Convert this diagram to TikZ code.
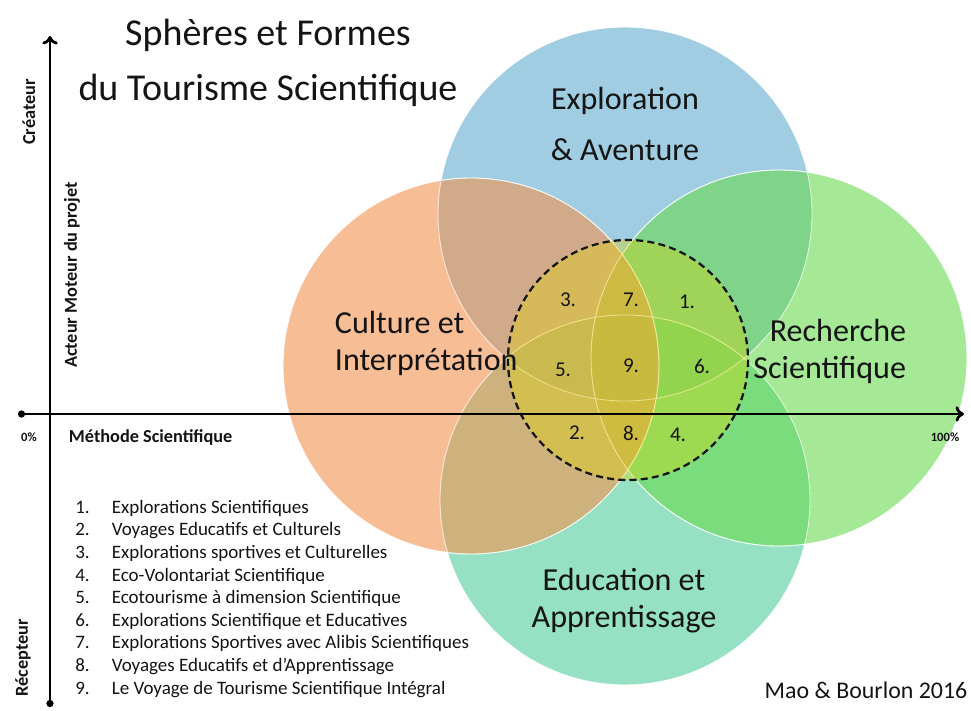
\documentclass[tikz,border=0pt]{standalone}
\usepackage{fontspec}
\setmainfont{Carlito}
\usepackage{tikz}
\usepackage{xcolor}
\usetikzlibrary{arrows.meta}

\definecolor{sphere-blue}{RGB}{97,172,205}
\definecolor{sphere-orange}{RGB}{243,147,80}
\definecolor{sphere-green}{RGB}{105,217,80}
\definecolor{sphere-teal}{RGB}{80,205,155}
\definecolor{core-yellow}{RGB}{224,213,0}
\definecolor{ink}{RGB}{20,20,20}

\tikzset{
    sphere/.style = {fill opacity=0.6, draw=white, draw opacity=0.7, line width=0.6pt},
    core-circle/.style = {fill=core-yellow, fill opacity=0.35, draw=ink, dash pattern=on 5pt off 3pt, line width=1.6pt},
    axis-line/.style = {draw=black, line width=2pt},
    main-title/.style = {text=ink, align=center, font=\fontsize{27}{39}\selectfont},
    sphere-label/.style = {text=ink, font=\fontsize{22.8}{26.3}\selectfont},
    zone-number/.style = {text=ink, font=\fontsize{15}{18}\selectfont},
    axis-label/.style = {text=ink, font=\bfseries\fontsize{13}{15}\selectfont},
    axis-percent/.style = {text=ink, font=\bfseries\fontsize{9}{11}\selectfont},
}

\begin{document}
\begin{tikzpicture}[x=0.025cm, y=-0.025cm]
\fill[white] (0,0) rectangle (971,710);
\useasboundingbox (0,0) rectangle (971,710);

% the four spheres
\fill[sphere, fill=sphere-blue] (625,214) circle[radius=187];
\fill[sphere, fill=sphere-teal] (625,500) circle[radius=185];
\fill[sphere, fill=sphere-green] (779,358) circle[radius=188];
\fill[sphere, fill=sphere-orange] (471,366) circle[radius=188];
\draw[sphere, fill opacity=0] (625,214) circle[radius=187] (625,500) circle[radius=185]
    (779,358) circle[radius=188] (471,366) circle[radius=188];

% integral tourism zone
\filldraw[core-circle] (628,360) circle[radius=120];

% axes
\coordinate (x-start) at (18,414);
\coordinate (x-end) at (964,414);
\coordinate (y-start) at (50,707);
\coordinate (y-end) at (50,36);
\draw[axis-line, {Circle[length=5pt]}-{To[length=6pt,width=11pt]}] (x-start) -- (x-end);
\draw[axis-line, {Circle[length=5pt]}-{To[length=6pt,width=11pt]}] (y-start) -- (y-end);

\node[main-title] (title) at (268,63) {Sphères et Formes\\du Tourisme Scientifique};

\node[sphere-label, align=center, font=\fontsize{22.8}{35.6}\selectfont] (exploration) at (625,124) {Exploration\\\& Aventure};
\node[sphere-label, align=left, anchor=west] (culture) at (330,343) {Culture et\\Interprétation};
\node[sphere-label, align=right, anchor=east] (recherche) at (911,351) {Recherche\\Scientifique};
\node[sphere-label, align=center] (education) at (624,601) {Education et\\Apprentissage};

\node[zone-number] (zone-3) at (568,300) {3.};
\node[zone-number] (zone-7) at (631,300) {7.};
\node[zone-number] (zone-1) at (687,302) {1.};
\node[zone-number] (zone-5) at (563,370) {5.};
\node[zone-number] (zone-9) at (631,366) {9.};
\node[zone-number] (zone-6) at (702,366) {6.};
\node[zone-number] (zone-2) at (577,433) {2.};
\node[zone-number] (zone-8) at (631,433) {8.};
\node[zone-number] (zone-4) at (678,435) {4.};

\node[axis-label, rotate=90] (createur) at (29,112) {Créateur};
\node[axis-label, rotate=90] (acteur) at (72,275) {Acteur Moteur du projet};
\node[axis-label, rotate=90] (recepteur) at (23,658) {Récepteur};
\node[axis-percent] (zero) at (29,437) {0\%};
\node[axis-percent] (hundred) at (945,437) {100\%};
\node[axis-label, anchor=west] (methode) at (64,438) {Méthode Scientifique};

\node[text=ink, anchor=north west, inner sep=0pt, font=\fontsize{13.5}{16.1}\selectfont] (legend) at (75,497) {%
\begin{tabular}{@{}p{26pt}@{}l@{}}
1. & Explorations Scientifiques\\
2. & Voyages Educatifs et Culturels\\
3. & Explorations sportives et Culturelles\\
4. & Eco-Volontariat Scientifique\\
5. & Ecotourisme à dimension Scientifique\\
6. & Explorations Scientifique et Educatives\\
7. & Explorations Sportives avec Alibis Scientifiques\\
8. & Voyages Educatifs et d’Apprentissage\\
9. & Le Voyage de Tourisme Scientifique Intégral
\end{tabular}};

\node[text=ink, font=\fontsize{17}{20}\selectfont] (credit) at (866,690) {Mao \& Bourlon 2016};
\end{tikzpicture}
\end{document}
